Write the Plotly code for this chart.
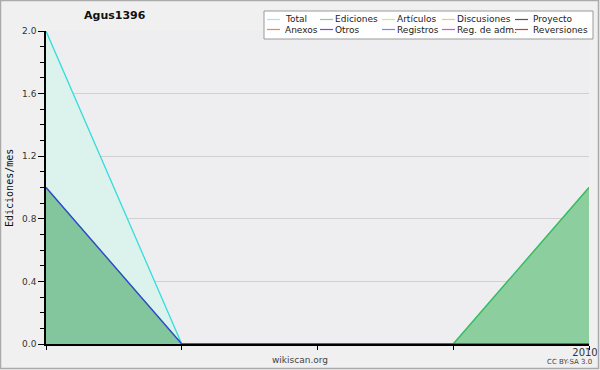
import plotly.graph_objects as go

# ---- data ----
months = ["2009-09", "2009-10", "2009-11", "2009-12", "2010-01"]
tick_labels = ["", "", "", "", "2010"]
total = [2, 0, 0, 0, 1]
ediciones = [1, 0, 0, 0, 1]
registros = [1, 0, 0, 0, 0]

legend_names = ["Total", "Ediciones", "Artículos", "Discusiones", "Proyecto",
                "Anexos", "Otros", "Registros", "Reg. de adm.", "Reversiones"]
legend_colors = ["#a8e4e4", "#88cc99", "#ccee66", "#eecc55", "#555555",
                 "#ee8844", "#8844cc", "#7788ee", "#cc55dd", "#dd3333"]

title_text = "Agus1396"
y_title = "Ediciones/mes"

# ---- layout geometry (pixels) ----
W, H = 600, 370
L, R, T, B = 46, 11, 31, 26
PW, PH = W - L - R, H - T - B


def px(x):
    return (x - L) / PW


def py(y):
    return (H - B - y) / PH


fig = go.Figure()
fig.add_trace(go.Scatter(x=months, y=total, mode="lines", fill="tozeroy",
                         line=dict(color="#33dddd", width=1.3),
                         fillcolor="rgb(220,242,236)", showlegend=False))
fig.add_trace(go.Scatter(x=months, y=registros, mode="lines", fill="tozeroy",
                         line=dict(color="rgba(0,0,0,0)", width=0),
                         fillcolor="rgba(51,68,221,0.10)", showlegend=False))
fig.add_trace(go.Scatter(x=months, y=ediciones, mode="lines", fill="tozeroy",
                         line=dict(color="#44bb55", width=1.3),
                         fillcolor="rgba(60,170,80,0.50)", showlegend=False))
fig.add_trace(go.Scatter(x=months, y=registros, mode="lines",
                         line=dict(color="#3344dd", width=1.3),
                         showlegend=False))

shapes = []
annotations = []

# outer border
shapes.append(dict(type="rect", xref="paper", yref="paper",
                   x0=px(0.5), x1=px(W - 1.5), y0=py(H - 1.5), y1=py(0.5),
                   line=dict(color="#aaaaaa", width=1.5), layer="above"))

# legend box
shapes.append(dict(type="rect", xref="paper", yref="paper",
                   x0=px(264), x1=px(593), y0=py(39), y1=py(11),
                   fillcolor="white", line=dict(color="#999999", width=1),
                   layer="above"))
col_line_x = [267, 320, 382, 442, 515]
col_text_x = [285, 335, 397, 457, 533]
row_y = [19.5, 29.5]
for i, (name, color) in enumerate(zip(legend_names, legend_colors)):
    r, c = divmod(i, 5)
    shapes.append(dict(type="line", xref="paper", yref="paper",
                       x0=px(col_line_x[c]), x1=px(col_line_x[c] + 13),
                       y0=py(row_y[r]), y1=py(row_y[r]),
                       line=dict(color=color, width=1.2), layer="above"))
    annotations.append(dict(text=name, xref="paper", yref="paper",
                            x=px(col_text_x[c] - 2), y=py(row_y[r]),
                            xanchor="left", yanchor="middle", showarrow=False,
                            font=dict(family="DejaVu Sans", size=9, color="#222222")))

annotations.append(dict(text="<b>" + title_text + "</b>", xref="paper", yref="paper",
                        x=px(115), y=py(15), xanchor="center", yanchor="middle",
                        showarrow=False,
                        font=dict(family="DejaVu Sans", size=11, color="#111111")))
annotations.append(dict(text=y_title, xref="paper", yref="paper",
                        x=px(9), y=py(188), xanchor="center", yanchor="middle",
                        textangle=-90, showarrow=False,
                        font=dict(family="DejaVu Sans Mono", size=10, color="#111111")))
annotations.append(dict(text="wikiscan.org", xref="paper", yref="paper",
                        x=px(300), y=py(360), xanchor="center", yanchor="middle",
                        showarrow=False,
                        font=dict(family="DejaVu Sans", size=9, color="#444444")))
annotations.append(dict(text="CC BY-SA 3.0", xref="paper", yref="paper",
                        x=px(569), y=py(362), xanchor="center", yanchor="middle",
                        showarrow=False,
                        font=dict(family="DejaVu Sans", size=7, color="#444444")))

fig.update_layout(
    width=W, height=H,
    margin=dict(l=L, r=R, t=T, b=B),
    paper_bgcolor="#f0f0f0", plot_bgcolor="#eeeef0",
    shapes=shapes, annotations=annotations, showlegend=False,
    font=dict(family="DejaVu Sans", size=9, color="#333333"),
)
fig.update_xaxes(type="category", range=[0, len(months) - 1], automargin=False,
                 tickmode="array", tickvals=months, ticktext=tick_labels,
                 ticks="outside", ticklen=4, tickcolor="#000000",
                 ticklabelstandoff=-6, ticklabelshift=-4,
                 showline=True, linecolor="#000000", linewidth=1.5,
                 showgrid=False, zeroline=False, layer="above traces",
                 tickfont=dict(family="DejaVu Sans", size=10, color="#333333"))
fig.update_yaxes(range=[0, 2], tickmode="array", automargin=False,
                 tickvals=[0, 0.4, 0.8, 1.2, 1.6, 2.0],
                 ticktext=["0.0", "0.4", "0.8", "1.2", "1.6", "2.0"],
                 ticks="outside", ticklen=6, tickcolor="#000000",
                 minor=dict(dtick=0.1, ticks="outside", ticklen=4, tickcolor="#000000",
                            showgrid=False),
                 showline=True, linecolor="#000000", linewidth=1.5,
                 showgrid=True, gridcolor="#d0d0d0", gridwidth=1, zeroline=False,
                 layer="above traces",
                 tickfont=dict(family="DejaVu Sans", size=9, color="#333333"))

fig.write_html("out.html", config={"displayModeBar": False},
               post_script="document.body.style.margin='0';document.body.style.padding='0';")
